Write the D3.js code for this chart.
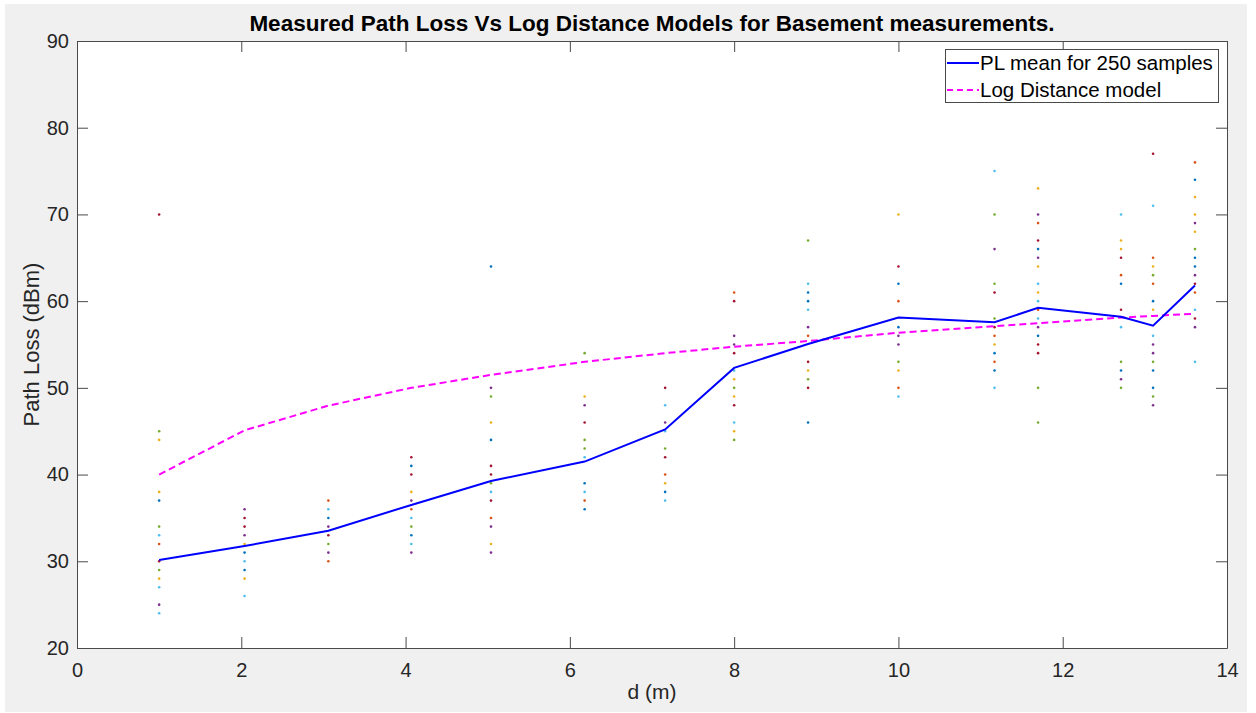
<!DOCTYPE html>
<html lang="en">
<head>
    <meta charset="UTF-8">
    <title>Measured Path Loss Vs Log Distance Models</title>
    <script src="https://d3js.org/d3.v7.min.js"></script>
    <style>
        body {
            margin: 0;
            padding: 0;
            background-color: #ffffff;
            font-family: "Liberation Sans", Arial, sans-serif;
        }
        .axis path, .axis line {
            stroke: #4a4a4a;
        }
        .axis text {
            fill: #262626;
            font-size: 20px;
            font-family: "Liberation Sans", Arial, sans-serif;
        }
    </style>
</head>
<body>
    <div id="chart"></div>

    <script>
        // distances (m) where measurements were taken
        const distances = [1, 2.04, 3.06, 4.07, 5.04, 6.18, 7.16, 8.0, 8.9, 10, 11.17, 11.7, 12.71, 13.1, 13.61];
        // mean path loss over the samples
        const plMean = [30.15, 31.76, 33.53, 36.5, 39.26, 41.5, 45.2, 52.3, 55.06, 58.1, 57.56, 59.24, 58.2, 57.17, 61.8];
        // log distance model
        const logModel = [40, 45.1, 47.95, 50.0, 51.5, 53.0, 54.0, 54.75, 55.4, 56.36, 57.1, 57.45, 58.1, 58.3, 58.55];

        // individual (distinct) sample values at each distance
        const samples = [
            [70, 45, 44, 38, 37, 34, 33, 32, 30, 29, 28, 27, 25, 24],
            [36, 35, 34, 33, 32, 31, 30, 29, 28, 26],
            [37, 36, 35, 34, 33, 32, 31, 30],
            [42, 41, 40, 38, 37, 36, 35, 34, 33, 32, 31],
            [64, 50, 49, 46, 44, 41, 40, 39, 38, 37, 35, 34, 32, 31],
            [54, 49, 48, 46, 44, 43, 42, 39, 38, 37, 36],
            [50, 48, 46, 45, 43, 42, 40, 39, 38, 37],
            [61, 60, 56, 55, 54, 52, 51, 50, 49, 48, 46, 45, 44],
            [67, 62, 61, 60, 59, 57, 56, 53, 52, 51, 50, 46],
            [70, 64, 62, 60, 57, 56, 55, 53, 52, 50, 49],
            [75, 70, 66, 62, 61, 58, 57, 56, 55, 54, 53, 52, 50],
            [73, 70, 69, 67, 66, 65, 64, 62, 61, 60, 59, 58, 57, 56, 55, 54, 50, 46],
            [70, 67, 66, 65, 63, 62, 59, 57, 53, 52, 51, 50],
            [77, 71, 65, 64, 63, 62, 60, 59, 56, 55, 54, 53, 52, 50, 49, 48],
            [76, 74, 72, 70, 69, 68, 66, 65, 64, 63, 62, 61, 59, 58, 57, 53]
        ];
        // colour letter of each sample dot (matlab colour order)
        const sampleColors = [
            "rgyybgcorgycpc",
            "prrpybcbyc",
            "ocbprgpo",
            "rbrypocgbcp",
            "bpgybrrgcropyp",
            "gyprggcbcob",
            "rcpcgroybc",
            "orpprcygyrcyg",
            "gcbbcporygrb",
            "yrbobppgyoc",
            "cgpgrgroybobc",
            "yporbpycycocpbrrgg",
            "cyyrobrcgbpg",
            "rcoygobycppgbbgp",
            "obyypygbbprocrpc"
        ];
        const palette = {
            b: "#0072BD", o: "#D95319", y: "#EDB120", p: "#7E2F8E",
            g: "#77AC30", c: "#4DBEEE", r: "#A2142F"
        };

        const xTicks = [0, 2, 4, 6, 8, 10, 12, 14];
        const yTicks = [20, 30, 40, 50, 60, 70, 80, 90];
        const legendLabels = ["PL mean for 250 samples", "Log Distance model"];

        const width = 1256, height = 713;
        const margin = {left: 77, right: 29, top: 41, bottom: 65};

        const svg = d3.select("#chart")
            .append("svg")
            .attr("width", width)
            .attr("height", height);

        // grey figure background
        svg.append("rect")
            .attr("x", 5).attr("y", 4)
            .attr("width", 1242).attr("height", 708)
            .attr("fill", "#f0f0f0");

        const x = d3.scaleLinear().domain([0, 14]).range([margin.left, width - margin.right]);
        const y = d3.scaleLinear().domain([20, 90]).range([height - margin.bottom, margin.top]);

        svg.append("rect")
            .attr("x", x(0)).attr("y", y(90))
            .attr("width", x(14) - x(0)).attr("height", y(20) - y(90))
            .attr("fill", "#ffffff");

        // scatter of samples
        const dots = [];
        samples.forEach((vals, i) => {
            vals.forEach((v, j) => dots.push({d: distances[i], v: v, c: palette[sampleColors[i][j]]}));
        });
        svg.append("g")
            .selectAll("circle")
            .data(dots)
            .enter().append("circle")
            .attr("cx", d => x(d.d))
            .attr("cy", d => y(d.v))
            .attr("r", 1.3)
            .attr("fill", d => d.c);

        const line = d3.line()
            .x((d, i) => x(distances[i]))
            .y(d => y(d));

        svg.append("path")
            .datum(logModel)
            .attr("d", line)
            .attr("fill", "none")
            .attr("stroke", "#ff00ff")
            .attr("stroke-width", 2)
            .attr("stroke-dasharray", "7,4");

        svg.append("path")
            .datum(plMean)
            .attr("d", line)
            .attr("fill", "none")
            .attr("stroke", "#0000ff")
            .attr("stroke-width", 2);

        // axes, ticks pointing inward, box on
        svg.append("g")
            .attr("class", "axis")
            .attr("transform", `translate(0,${y(20)})`)
            .call(d3.axisBottom(x).tickValues(xTicks).tickSize(-11).tickPadding(15).tickSizeOuter(0));
        svg.append("g")
            .attr("class", "axis")
            .attr("transform", `translate(0,${y(90)})`)
            .call(d3.axisTop(x).tickValues(xTicks).tickSize(-11).tickFormat("").tickSizeOuter(0));
        svg.append("g")
            .attr("class", "axis")
            .attr("transform", `translate(${x(0)},0)`)
            .call(d3.axisLeft(y).tickValues(yTicks).tickSize(-11).tickPadding(8).tickSizeOuter(0));
        svg.append("g")
            .attr("class", "axis")
            .attr("transform", `translate(${x(14)},0)`)
            .call(d3.axisRight(y).tickValues(yTicks).tickSize(-11).tickFormat("").tickSizeOuter(0));

        // title and labels
        svg.append("text")
            .attr("x", (x(0) + x(14)) / 2)
            .attr("y", 31)
            .attr("text-anchor", "middle")
            .attr("font-size", "22.5px")
            .attr("font-weight", "bold")
            .attr("fill", "#000")
            .text("Measured Path Loss Vs Log Distance Models for Basement measurements.");

        svg.append("text")
            .attr("x", (x(0) + x(14)) / 2)
            .attr("y", 699)
            .attr("text-anchor", "middle")
            .attr("font-size", "21px")
            .attr("fill", "#262626")
            .text("d (m)");

        svg.append("text")
            .attr("transform", `translate(39,${(y(20) + y(90)) / 2}) rotate(-90)`)
            .attr("text-anchor", "middle")
            .attr("font-size", "22px")
            .attr("fill", "#262626")
            .text("Path Loss (dBm)");

        // legend
        const legend = svg.append("g");
        legend.append("rect")
            .attr("x", 945.5).attr("y", 49.5)
            .attr("width", 273).attr("height", 53)
            .attr("fill", "#ffffff")
            .attr("stroke", "#4a4a4a")
            .attr("stroke-width", 1);
        const legendStyles = [
            {stroke: "#0000ff", dash: null},
            {stroke: "#ff00ff", dash: "6,4"}
        ];
        legendLabels.forEach((lab, i) => {
            const ly = 63 + i * 27;
            legend.append("line")
                .attr("x1", 947).attr("x2", 979)
                .attr("y1", ly).attr("y2", ly)
                .attr("stroke", legendStyles[i].stroke)
                .attr("stroke-width", 2)
                .attr("stroke-dasharray", legendStyles[i].dash);
            legend.append("text")
                .attr("x", 980)
                .attr("y", ly + 7)
                .attr("font-size", "20.5px")
                .attr("fill", "#000")
                .text(lab);
        });
    </script>
</body>
</html>
